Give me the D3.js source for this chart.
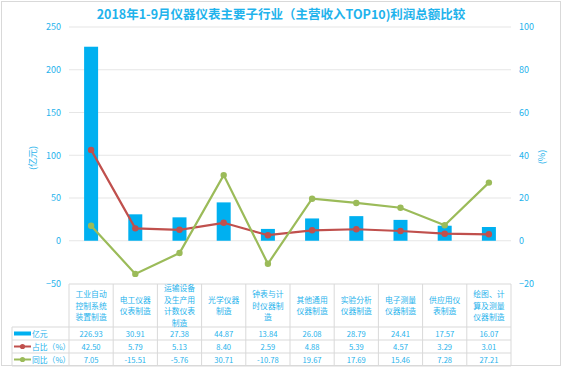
<!DOCTYPE html>
<html><head><meta charset="utf-8">
<script src="https://cdn.jsdelivr.net/npm/d3@7"></script>
<style>body{margin:0;background:#fff}svg{display:block}text{font-family:"Noto Sans CJK SC","Noto Sans",sans-serif}</style>
</head><body>
<script>
const categories = [
  ["工业自动","控制系统","装置制造"],
  ["电工仪器","仪表制造"],
  ["运输设备","及生产用","计数仪表","制造"],
  ["光学仪器","制造"],
  ["钟表与计","时仪器制","造"],
  ["其他通用","仪器制造"],
  ["实验分析","仪器制造"],
  ["电子测量","仪器制造"],
  ["供应用仪","表制造"],
  ["绘图、计","算及测量","仪器制造"]
];
const profit = [226.93, 30.91, 27.38, 44.87, 13.84, 26.08, 28.79, 24.41, 17.57, 16.07];
const share = [42.50, 5.79, 5.13, 8.40, 2.59, 4.88, 5.39, 4.57, 3.29, 3.01];
const yoy = [7.05, -15.51, -5.76, 30.71, -10.78, 19.67, 17.69, 15.46, 7.28, 27.21];
const leftTicks = [-50, 0, 50, 100, 150, 200, 250];
const rightTicks = [-20, 0, 20, 40, 60, 80, 100];
const seriesNames = ["亿元", "占比（%）", "同比（%）"];
const title = "2018年1-9月仪器仪表主要子行业（主营收入TOP10)利润总额比较";

const W = 562, H = 367;
const blue = "#00B0F0", red = "#C0504D", green = "#9BBB59", txt = "#1FB3EC", grid = "#E6E6E6", border = "#D9D9D9";
const svg = d3.select("body").append("svg").attr("width", W).attr("height", H);
svg.append("rect").attr("x",1.5).attr("y",1.5).attr("width",W-3).attr("height",H-3).attr("fill","#fff").attr("stroke",border);

const x = d3.scaleBand().domain(d3.range(categories.length)).range([69, 511]).padding(0);
const yL = d3.scaleLinear().domain([-50, 250]).range([283.5, 27]);
const yR = d3.scaleLinear().domain([-20, 100]).range([283.5, 27]);

svg.append("text").attr("x", 281).attr("y", 19).attr("text-anchor","middle").attr("font-size",12.5).attr("font-weight","bold").attr("fill",txt).text(title);

// gridlines
svg.append("g").selectAll("line").data(leftTicks.filter(d=>d>-50)).join("line")
  .attr("x1",69).attr("x2",511).attr("y1",d=>yL(d)).attr("y2",d=>yL(d)).attr("stroke",grid).attr("stroke-width",1.2);

// axes
const gl = svg.append("g").attr("transform","translate(69,0)").call(d3.axisLeft(yL).tickValues(leftTicks).tickSize(0).tickPadding(8));
gl.select(".domain").remove();
gl.selectAll("text").attr("fill",txt).attr("font-size",9).attr("font-family",'"Noto Sans CJK SC",sans-serif');
const gr = svg.append("g").attr("transform","translate(511,0)").call(d3.axisRight(yR).tickValues(rightTicks).tickSize(0).tickPadding(8));
gr.select(".domain").remove();
gr.selectAll("text").attr("fill",txt).attr("font-size",9).attr("font-family",'"Noto Sans CJK SC",sans-serif');

svg.append("text").attr("transform","translate(36,158) rotate(-90)").attr("text-anchor","middle").attr("font-size",9).attr("fill",txt).text("(亿元)");
svg.append("text").attr("transform","translate(545,157) rotate(-90)").attr("text-anchor","middle").attr("font-size",9).attr("fill",txt).text("(%)");

// bars
const bw = 14;
svg.append("g").selectAll("rect").data(profit).join("rect")
  .attr("x",(d,i)=>x(i)+x.bandwidth()/2-bw/2).attr("width",bw)
  .attr("y",d=>yL(Math.max(0,d))).attr("height",d=>Math.abs(yL(d)-yL(0)))
  .attr("fill",blue);

// lines
function drawLine(data, color){
  const line = d3.line().x((d,i)=>x(i)+x.bandwidth()/2).y(d=>yR(d));
  svg.append("path").datum(data).attr("d",line).attr("fill","none").attr("stroke",color).attr("stroke-width",2.2);
  svg.append("g").selectAll("circle").data(data).join("circle")
    .attr("cx",(d,i)=>x(i)+x.bandwidth()/2).attr("cy",d=>yR(d)).attr("r",3.2).attr("fill",color);
}
drawLine(share, red);
drawLine(yoy, green);

// table
const tTop = 284, hBot = 327, rowH = 13, tLeft = 12;
const tg = svg.append("g");
tg.append("line").attr("x1",69).attr("x2",511).attr("y1",tTop).attr("y2",tTop).attr("stroke",border);
[0,1,2,3].forEach(k=>{
  tg.append("line").attr("x1",tLeft).attr("x2",511).attr("y1",hBot+k*rowH).attr("y2",hBot+k*rowH).attr("stroke",border);
});
tg.append("line").attr("x1",tLeft).attr("x2",tLeft).attr("y1",hBot).attr("y2",hBot+3*rowH).attr("stroke",border);
d3.range(categories.length+1).forEach(i=>{
  const xx = i<categories.length ? x(i) : 511;
  tg.append("line").attr("x1",xx).attr("x2",xx).attr("y1",tTop).attr("y2",hBot+3*rowH).attr("stroke",border);
});
categories.forEach((lines,i)=>{
  const cx = x(i)+x.bandwidth()/2, n = lines.length, mid = (tTop+hBot)/2;
  lines.forEach((s,j)=>{
    tg.append("text").attr("x",cx).attr("y",mid+(j-(n-1)/2)*11.5+3).attr("text-anchor","middle")
      .attr("font-size",7.8).attr("fill",txt).text(s);
  });
});
const rows = [profit, share, yoy];
rows.forEach((arr,r)=>{
  const cy = hBot + r*rowH + rowH/2 + 3;
  arr.forEach((v,i)=>{
    tg.append("text").attr("x",x(i)+x.bandwidth()/2).attr("y",cy).attr("text-anchor","middle")
      .attr("font-size",7.6).attr("fill",txt).text(v.toFixed(2));
  });
  const ky = hBot + r*rowH + rowH/2;
  if(r===0){
    tg.append("rect").attr("x",14).attr("y",ky-2).attr("width",17).attr("height",4).attr("fill",blue);
  } else {
    const c = r===1?red:green;
    tg.append("line").attr("x1",14).attr("x2",31).attr("y1",ky).attr("y2",ky).attr("stroke",c).attr("stroke-width",2);
    tg.append("circle").attr("cx",22.5).attr("cy",ky).attr("r",2.6).attr("fill",c);
  }
  tg.append("text").attr("x",32).attr("y",cy).attr("font-size",7.8).attr("fill",txt).text(seriesNames[r]);
});
</script>
</body></html>
